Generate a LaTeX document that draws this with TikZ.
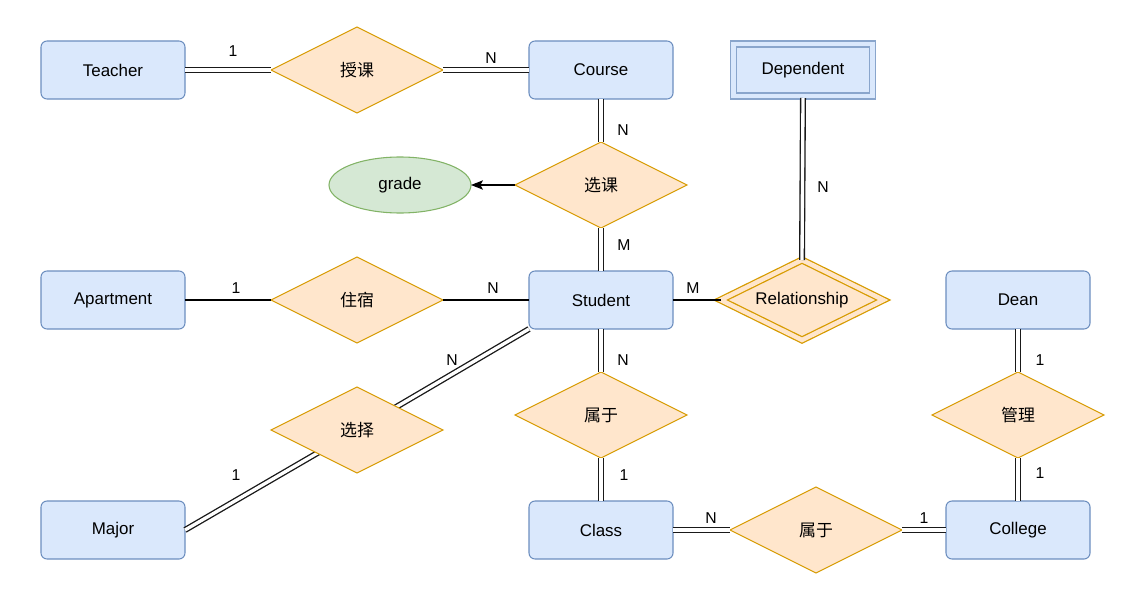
\documentclass[tikz,border=0pt]{standalone}
\usepackage{fontspec}
\setmainfont{Liberation Sans}
\newfontfamily\cjk{Noto Sans CJK SC}
\usetikzlibrary{shapes.geometric,arrows.meta}
\definecolor{entfill}{HTML}{DAE8FC}
\definecolor{entline}{HTML}{6C8EBF}
\definecolor{relfill}{HTML}{FFE6CC}
\definecolor{relline}{HTML}{D79B00}
\definecolor{attfill}{HTML}{D5E8D4}
\definecolor{attline}{HTML}{82B366}
\tikzset{
  x=0.75pt, y=-0.75pt,
  every node/.style={font=\fontsize{12.7pt}{14pt}\selectfont, text=black, outer sep=0pt},
  entity/.style={draw=entline, fill=entfill, line width=0.8pt, rounded corners=4.5pt,
    minimum width=108pt, minimum height=43.5pt, inner sep=0pt},
  weakentity/.style={draw=entline!80, fill=entfill, line width=1pt, double=entfill, double distance=3.6pt,
    minimum width=104pt, minimum height=39pt, inner sep=0pt},
  relation/.style={diamond, shape aspect=2, draw=relline, fill=relfill, line width=0.8pt,
    minimum width=129pt, minimum height=64.5pt, inner sep=0pt},
  weakrel/.style={diamond, shape aspect=2, draw=relline, fill=relfill, line width=0.95pt,
    double=relfill, double distance=3.4pt,
    minimum width=122pt, minimum height=60pt, inner sep=0pt},
  attrib/.style={ellipse, draw=attline, fill=attfill, line width=0.8pt,
    minimum width=106.5pt, minimum height=42pt, inner sep=0pt},
  dbl/.style={draw=black!90, line width=1pt, double=white, double distance=2.5pt},
  sgl/.style={draw=black, line width=0.8pt},
  card/.style={font=\fontsize{11.8pt}{13pt}\selectfont, inner sep=0pt},
}
\begin{document}
\begin{tikzpicture}
\useasboundingbox (0,0) rectangle (1124,592);
% entities
\node[entity] (teacher) at (113,70) {Teacher};
\node[entity] (course) at (601,70) {Course};
\node[weakentity] (dependent) at (803,70) {Dependent};
\node[entity] (apartment) at (113,300) {Apartment};
\node[entity] (student) at (601,300) {Student};
\node[entity] (dean) at (1018,300) {Dean};
\node[entity] (major) at (113,530) {Major};
\node[entity] (class) at (601,530) {Class};
\node[entity] (college) at (1018,530) {College};
% attribute
\node[attrib] (grade) at (400,185) {grade};
% edges (drawn before relations so diamonds cover them)
\draw[dbl] (major.east) -- (357,430);
\draw[dbl] (357,430) -- (student.south west);
% relations
\node[relation] (shouke) at (357,70) {\cjk 授课};
\node[relation] (xuanke) at (601,185) {\cjk 选课};
\node[relation] (zhusu) at (357,300) {\cjk 住宿};
\node[weakrel] (relationship) at (802,300) {Relationship};
\node[relation] (shuyu1) at (601,415) {\cjk 属于};
\node[relation] (xuanze) at (357,430) {\cjk 选择};
\node[relation] (guanli) at (1018,415) {\cjk 管理};
\node[relation] (shuyu2) at (816,530) {\cjk 属于};
% connectors
\draw[dbl] (teacher) -- (shouke);
\draw[dbl] (shouke) -- (course);
\draw[dbl] (course) -- (xuanke);
\draw[dbl] (xuanke) -- (student);
\draw[sgl, -{Stealth[length=9pt, width=7pt, inset=2pt]}] (xuanke) -- (grade);
\draw[dbl] (dependent.south) ++(0,2) -- (relationship.north);
\draw[sgl] (apartment) -- (zhusu);
\draw[sgl] (zhusu) -- (student);
\draw[sgl] (student) -- (relationship.west);
\draw[dbl] (student) -- (shuyu1);
\draw[dbl] (shuyu1) -- (class);
\draw[dbl] (class) -- (shuyu2);
\draw[dbl] (shuyu2) -- (college);
\draw[dbl] (dean) -- (guanli);
\draw[dbl] (guanli) -- (college);
% cardinalities
\node[card] (c1) at (233,51) {1};
\node[card] (c2) at (491,58) {N};
\node[card] (c3) at (623,130) {N};
\node[card] (c4) at (624,245) {M};
\node[card] (c5) at (823,187) {N};
\node[card] (c6) at (236,288) {1};
\node[card] (c7) at (493,288) {N};
\node[card] (c8) at (693,288) {M};
\node[card] (c9) at (452,360) {N};
\node[card] (c10) at (236,475) {1};
\node[card] (c11) at (623,360) {N};
\node[card] (c12) at (624,475) {1};
\node[card] (c13) at (711,518) {N};
\node[card] (c14) at (924,518) {1};
\node[card] (c15) at (1040,360) {1};
\node[card] (c16) at (1040,473) {1};
\end{tikzpicture}
\end{document}
